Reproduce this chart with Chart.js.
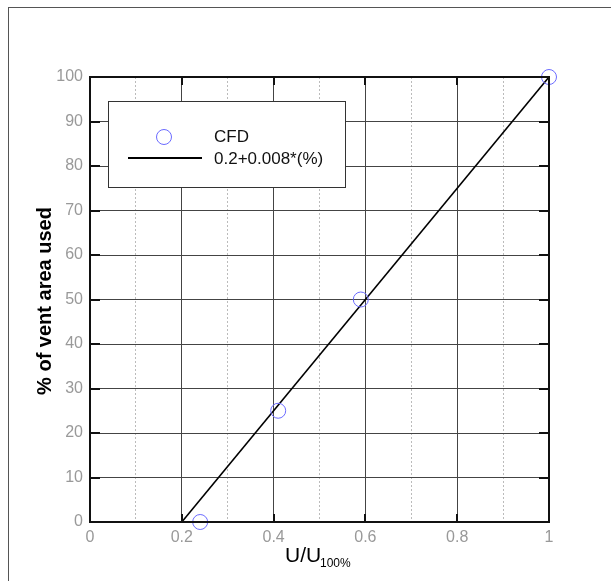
<!DOCTYPE html>
<html>
<head>
<meta charset="utf-8">
<script src="https://cdn.jsdelivr.net/npm/chart.js@4/dist/chart.umd.min.js"></script>
<style>
    body { margin: 0; background: #fff; }
    #wrap { position: relative; width: 611px; height: 581px; overflow: hidden; }
    #frame { position: absolute; left: 8px; top: 7px; width: 800px; height: 800px; border: 1px solid #555; }
    canvas { position: absolute; left: 0; top: 0; }
</style>
</head>
<body>
<div id="wrap">
    <div id="frame"></div>
    <canvas id="ventChart" width="611" height="581"></canvas>
</div>
<script>
// data
const cfdX = [0.24, 0.41, 0.59, 1.0];
const cfdY = [0, 25, 50, 100];
const fitX = [0.2, 1.0];
const fitY = [0, 100];
const legendLabels = ['CFD', '0.2+0.008*(%)'];

const tickFont = { family: 'Liberation Sans, Arial, sans-serif', size: 16 };

// frame, inward ticks, axis titles and legend
const decorations = {
    id: 'decorations',
    afterDatasetsDraw(chart) {
        const ctx = chart.ctx;
        const a = chart.chartArea;
        const x = chart.scales.x, y = chart.scales.y;
        ctx.save();
        ctx.strokeStyle = '#111';
        // inward major ticks
        ctx.lineWidth = 2;
        for (let v = 0.2; v < 0.99; v += 0.2) {
            const px = Math.round(x.getPixelForValue(v));
            ctx.beginPath();
            ctx.moveTo(px, a.bottom); ctx.lineTo(px, a.bottom - 8);
            ctx.moveTo(px, a.top); ctx.lineTo(px, a.top + 8);
            ctx.stroke();
        }
        for (let v = 10; v < 100; v += 10) {
            const py = Math.round(y.getPixelForValue(v));
            ctx.beginPath();
            ctx.moveTo(a.left, py); ctx.lineTo(a.left + 10, py);
            ctx.moveTo(a.right, py); ctx.lineTo(a.right - 10, py);
            ctx.stroke();
        }
        ctx.strokeRect(a.left, a.top, a.right - a.left, a.bottom - a.top);

        // y title
        ctx.fillStyle = '#000';
        ctx.font = 'bold 20px Liberation Sans, Arial, sans-serif';
        ctx.textAlign = 'center';
        ctx.textBaseline = 'middle';
        ctx.translate(45, 301);
        ctx.rotate(-Math.PI / 2);
        ctx.fillText('% of vent area used', 0, 0);
        ctx.setTransform(1, 0, 0, 1, 0, 0);

        // x title with subscript
        ctx.textAlign = 'left';
        ctx.textBaseline = 'alphabetic';
        ctx.font = '21px Liberation Sans, Arial, sans-serif';
        ctx.fillText('U/U', 285, 562);
        ctx.font = '12px Liberation Sans, Arial, sans-serif';
        ctx.fillText('100%', 320, 567);

        // legend
        ctx.fillStyle = '#fff';
        ctx.fillRect(108, 101, 237, 86);
        ctx.lineWidth = 1;
        ctx.strokeStyle = '#333';
        ctx.strokeRect(108.5, 101.5, 237, 86);
        ctx.strokeStyle = '#6b6bff';
        ctx.beginPath();
        ctx.arc(164, 137, 7.5, 0, Math.PI * 2);
        ctx.stroke();
        ctx.strokeStyle = '#000';
        ctx.lineWidth = 2;
        ctx.beginPath();
        ctx.moveTo(128, 158); ctx.lineTo(202, 158);
        ctx.stroke();
        ctx.fillStyle = '#111';
        ctx.font = '17px Liberation Sans, Arial, sans-serif';
        ctx.textBaseline = 'middle';
        ctx.fillText(legendLabels[0], 214, 137);
        ctx.fillText(legendLabels[1], 214, 159);
        ctx.restore();
    }
};

const ctx = document.getElementById('ventChart').getContext('2d');
new Chart(ctx, {
    type: 'scatter',
    data: {
        datasets: [{
            label: legendLabels[0],
            data: cfdX.map((v, i) => ({ x: v, y: cfdY[i] })),
            pointStyle: 'circle',
            pointRadius: 7.5,
            pointBorderWidth: 1,
            borderColor: '#6b6bff',
            backgroundColor: 'rgba(0,0,0,0)',
            clip: false
        }, {
            label: legendLabels[1],
            data: fitX.map((v, i) => ({ x: v, y: fitY[i] })),
            showLine: true,
            borderColor: '#000',
            borderWidth: 1.6,
            pointRadius: 0,
            clip: false
        }]
    },
    plugins: [decorations],
    options: {
        responsive: false,
        animation: false,
        layout: { padding: { top: 77, right: 62, left: 0, bottom: 0 } },
        plugins: { legend: { display: false }, tooltip: { enabled: false } },
        scales: {
            x: {
                type: 'linear', min: 0, max: 1,
                ticks: { stepSize: 0.2, color: '#999', font: tickFont, padding: 6,
                    callback: v => Math.round(v * 10) / 10 },
                grid: { color: '#444', lineWidth: 1, drawTicks: false },
                border: { display: false },
                afterFit: s => { s.height = 59; }
            },
            x2: {
                type: 'linear', min: 0, max: 1, position: 'bottom',
                ticks: { stepSize: 0.1, display: false },
                grid: { color: ctx => (Math.round(ctx.tick.value * 10) % 2 === 1) ? '#bbb' : 'rgba(0,0,0,0)',
                    lineWidth: 1, drawTicks: false },
                border: { display: false, dash: [2, 2] },
                afterFit: s => { s.height = 0; }
            },
            y: {
                type: 'linear', min: 0, max: 100,
                ticks: { stepSize: 10, color: '#999', font: tickFont, padding: 7 },
                grid: { color: '#444', lineWidth: 1, drawTicks: false },
                border: { display: false },
                afterFit: s => { s.width = 90; }
            }
        }
    }
});
</script>
</body>
</html>
